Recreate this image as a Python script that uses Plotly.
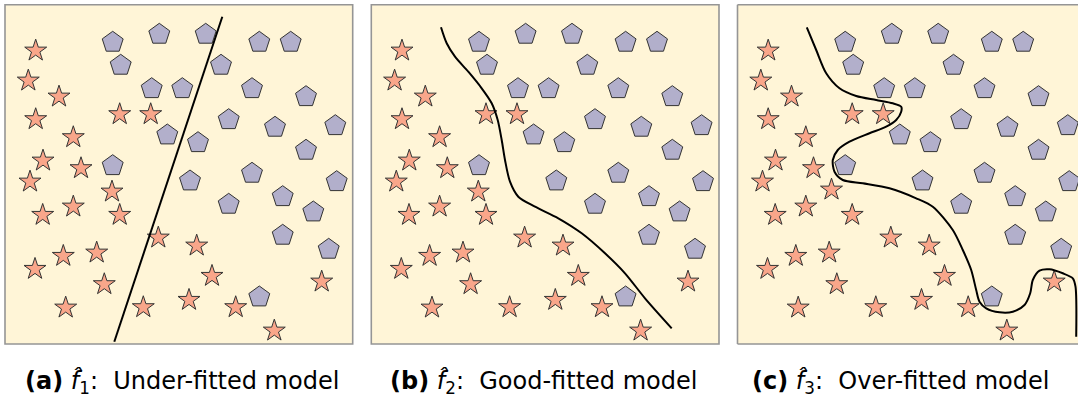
import plotly.graph_objects as go

# ---- data (panel-relative coordinates, y grows downward) ----
pent_x = [107.7, 154.3, 200.7, 254.3, 285.7, 115.7, 216, 146.7, 177.3, 247, 301, 223.7, 270, 330.3,
          162.3, 193, 301, 107.7, 247, 185, 331.7, 277.7, 223.7, 308.3, 277.7, 323.7, 254.3]
pent_y = [37.6, 29.6, 29.6, 37.6, 37.6, 60.6, 60.6, 84, 84, 84, 92, 115, 122.6, 121,
          130.3, 138, 145.6, 161, 168.6, 176.3, 177, 192, 199.6, 207.3, 230.6, 244.6, 292.3]

star_x = [30.7, 23.3, 54, 30.7, 114.7, 145.7, 68.3, 38, 76, 25, 107, 68.3, 37.7, 114.7,
          153.3, 191.7, 58.3, 91.7, 30, 99.3, 207, 316.7, 60.7, 138.3, 184, 230.7, 269.3]
star_y = [46, 76, 92, 114.6, 109.6, 109.6, 132.6, 156, 163.6, 177, 187, 202, 210.3, 210.3,
          233, 241, 251.3, 248, 264.3, 279.6, 271.3, 277, 303, 302.6, 295.3, 302.6, 326]
# panel (c): one star sits slightly further left
star_x_c = list(star_x)
star_y_c = list(star_y)
star_x_c[10] = 94
star_y_c[10] = 185

# decision boundaries
line_a_x = [217.3, 109.3]
line_a_y = [12, 337]

curve_b_x = [69.7, 75.4, 83.7, 97, 110.4, 120.4, 126.4, 130.4, 133.7, 138.7, 147, 163.7,
             187, 210.4, 233.7, 253.7, 273.7, 300.4]
curve_b_y = [22.6, 38.6, 52, 67, 83.6, 98.6, 115.3, 135.3, 155.3, 177, 192, 202,
             213.6, 228.6, 248.6, 268.6, 293.6, 323.6]

curve_c_x = [69.3, 78.7, 88.7, 102, 118.7, 138.7, 155.3, 163.7, 163.7, 158.7, 148.7, 132, 112,
             100.3, 95.3, 97, 105.3, 125.3, 152, 178.7, 195.3, 215.3, 225.3, 233.7, 238.7, 242,
             248.7, 262, 275.3, 287, 292.7, 295.3, 302, 312, 325.3, 335.3, 338, 338.7]
curve_c_y = [22.6, 45.3, 68.6, 83.6, 91.3, 95.3, 98.6, 102, 107, 115.3, 122, 128.6, 137,
             145.3, 155.3, 167, 175.3, 178.6, 183.6, 193.6, 202, 225.3, 245.3, 265.3, 285.3, 297,
             303.6, 307.6, 307, 300.3, 288.6, 275.3, 266, 264.6, 268.6, 273.6, 282, 332]

captions = ["<b>(a)</b> <i>f̂</i><sub>1</sub>:  Under-fitted model",
            "<b>(b)</b> <i>f̂</i><sub>2</sub>:  Good-fitted model",
            "<b>(c)</b> <i>f̂</i><sub>3</sub>:  Over-fitted model"]

# ---- layout constants ----
W, H = 1078, 399
BG = "#FFF5D7"
STAR_FILL = "#F9A68A"
PENT_FILL = "#B2AFCB"
EDGE = "#333333"

panels_px = [(5, 352.7), (371.3, 719), (737.5, 1078)]
x_ranges = [[0, 347.7], [0, 347.7], [0, 340.5]]
top_px, bot_px = 4.7, 344
ydom = [(H - bot_px) / H, (H - top_px) / H]
cap_centers = [182, 543, 900]

fig = go.Figure()

stars = [(star_x, star_y), (star_x, star_y), (star_x_c, star_y_c)]
lines = [(line_a_x, line_a_y, "linear"), (curve_b_x, curve_b_y, "spline"),
         (curve_c_x, curve_c_y, "spline")]

for i in range(3):
    xa = "x" if i == 0 else f"x{i+1}"
    ya = "y" if i == 0 else f"y{i+1}"
    fig.add_trace(go.Scatter(x=pent_x, y=pent_y, xaxis=xa, yaxis=ya, mode="markers",
                             marker=dict(symbol="pentagon", size=22, color=PENT_FILL,
                                         line=dict(color=EDGE, width=1)),
                             hoverinfo="skip", showlegend=False))
    sx, sy = stars[i]
    fig.add_trace(go.Scatter(x=sx, y=sy, xaxis=xa, yaxis=ya, mode="markers",
                             marker=dict(symbol="star", size=16.5, color=STAR_FILL,
                                         line=dict(color=EDGE, width=1)),
                             hoverinfo="skip", showlegend=False))
    lx, ly, shp = lines[i]
    fig.add_trace(go.Scatter(x=lx, y=ly, xaxis=xa, yaxis=ya, mode="lines",
                             line=dict(color="black", width=2, shape=shp, smoothing=0.8),
                             hoverinfo="skip", showlegend=False))

layout = dict(width=W, height=H, margin=dict(l=0, r=0, t=0, b=0), autosize=False,
              paper_bgcolor="white", plot_bgcolor=BG, showlegend=False)

for i in range(3):
    xk = "xaxis" if i == 0 else f"xaxis{i+1}"
    yk = "yaxis" if i == 0 else f"yaxis{i+1}"
    a = "x" if i == 0 else f"x{i+1}"
    b = "y" if i == 0 else f"y{i+1}"
    x0, x1 = panels_px[i]
    layout[xk] = dict(domain=[x0 / W, min(x1 / W, 1.0)], range=x_ranges[i], visible=False,
                      fixedrange=True, anchor=b)
    layout[yk] = dict(domain=ydom, range=[339.3, 0], visible=False, fixedrange=True, anchor=a)

fig.update_layout(**layout)

# frames
BORDER = dict(color="#959595", width=1.6)
for i in range(2):
    x0, x1 = panels_px[i]
    fig.add_shape(type="rect", xref="paper", yref="paper", x0=x0 / W, x1=x1 / W,
                  y0=ydom[0], y1=ydom[1], line=BORDER, fillcolor="rgba(0,0,0,0)", layer="above")
x0 = panels_px[2][0] / W
for (xa, xb, ya_, yb) in [(x0, x0, ydom[0], ydom[1]), (x0, 1.0, ydom[1], ydom[1]),
                          (x0, 1.0, ydom[0], ydom[0])]:
    fig.add_shape(type="line", xref="paper", yref="paper", x0=xa, x1=xb, y0=ya_, y1=yb,
                  line=BORDER, layer="above")

# captions
for i, txt in enumerate(captions):
    fig.add_annotation(text=txt, xref="paper", yref="paper", x=cap_centers[i] / W,
                       y=1 - 382 / H, xanchor="center", yanchor="middle", showarrow=False,
                       font=dict(family="DejaVu Sans", size=24, color="black"))

fig.write_html("out.html", config={"displayModeBar": False},
               post_script="document.body.style.margin='0';document.body.style.overflow='hidden';")
